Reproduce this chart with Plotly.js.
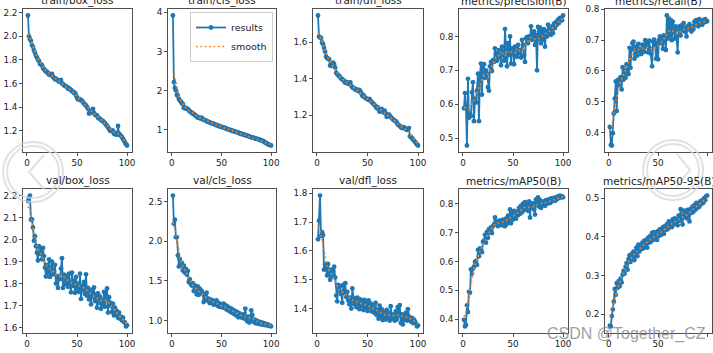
<!DOCTYPE html>
<html>
<head>
<meta charset="utf-8">
<script src="https://cdn.plot.ly/plotly-3.0.1.min.js"></script>
<style>
  html, body { margin: 0; padding: 0; background: #fff; }
  #chart { width: 713px; height: 353px; }
</style>
</head>
<body>
<div id="chart"></div>
<script>
// ---------------- DATA ----------------
const epochs = Array.from({length: 100}, (_, i) => i + 1);

const titles = ["train/box_loss", "train/cls_loss", "train/dfl_loss", "metrics/precision(B)", "metrics/recall(B)",
                "val/box_loss", "val/cls_loss", "val/dfl_loss", "metrics/mAP50(B)", "metrics/mAP50-95(B)"];

const trainBoxLoss = [2.175,2.00,1.975,1.96,1.925,1.91,1.88,1.86,1.835,1.82,
  1.80,1.79,1.765,1.76,1.755,1.73,1.72,1.71,1.70,1.70,
  1.685,1.675,1.68,1.67,1.68,1.655,1.65,1.635,1.64,1.63,
  1.625,1.615,1.625,1.63,1.60,1.595,1.585,1.58,1.575,1.57,
  1.555,1.56,1.55,1.545,1.535,1.53,1.52,1.52,1.50,1.48,
  1.465,1.47,1.465,1.455,1.455,1.44,1.43,1.42,1.415,1.40,
  1.385,1.345,1.35,1.365,1.36,1.385,1.35,1.335,1.33,1.33,
  1.31,1.305,1.30,1.29,1.285,1.28,1.27,1.265,1.25,1.24,
  1.23,1.215,1.20,1.205,1.195,1.20,1.175,1.17,1.18,1.165,
  1.24,1.175,1.165,1.155,1.145,1.13,1.115,1.10,1.085,1.075];

const trainClsLoss = [3.92,2.22,2.07,2.01,1.89,1.87,1.79,1.75,1.72,1.68,
  1.66,1.56,1.57,1.54,1.55,1.53,1.50,1.47,1.46,1.43,
  1.42,1.40,1.38,1.36,1.34,1.31,1.32,1.30,1.29,1.31,
  1.27,1.26,1.25,1.24,1.22,1.21,1.20,1.19,1.18,1.17,
  1.16,1.16,1.14,1.13,1.12,1.11,1.11,1.09,1.08,1.07,
  1.07,1.06,1.05,1.04,1.03,1.02,1.01,1.00,1.00,0.98,
  0.97,0.97,0.96,0.95,0.94,0.94,0.93,0.91,0.90,0.90,
  0.89,0.88,0.87,0.87,0.85,0.85,0.84,0.83,0.82,0.81,
  0.81,0.80,0.79,0.78,0.77,0.77,0.76,0.75,0.74,0.73,
  0.72,0.72,0.69,0.68,0.66,0.65,0.63,0.62,0.61,0.60];

const trainDflLoss = [1.745,1.630,1.625,1.622,1.598,1.588,1.568,1.548,1.522,1.512,
  1.510,1.505,1.472,1.470,1.478,1.488,1.478,1.460,1.432,1.425,
  1.418,1.415,1.408,1.400,1.398,1.392,1.385,1.378,1.383,1.375,
  1.372,1.378,1.380,1.360,1.352,1.350,1.345,1.340,1.343,1.335,
  1.332,1.338,1.330,1.318,1.305,1.310,1.300,1.295,1.290,1.288,
  1.285,1.290,1.280,1.272,1.268,1.262,1.255,1.250,1.240,1.245,
  1.232,1.220,1.228,1.235,1.222,1.215,1.225,1.210,1.192,1.195,
  1.205,1.198,1.190,1.185,1.178,1.175,1.170,1.168,1.160,1.150,
  1.145,1.142,1.135,1.132,1.130,1.135,1.128,1.125,1.120,1.122,
  1.130,1.085,1.082,1.075,1.068,1.062,1.055,1.048,1.040,1.035];

const precision = [0.588,0.633,0.590,0.478,0.675,0.560,0.572,0.565,0.635,0.665,
  0.550,0.618,0.605,0.640,0.690,0.550,0.688,0.720,0.628,0.715,
  0.718,0.678,0.700,0.690,0.650,0.640,0.712,0.725,0.698,0.730,
  0.725,0.765,0.750,0.728,0.738,0.760,0.742,0.715,0.770,0.752,
  0.728,0.822,0.735,0.712,0.780,0.745,0.800,0.720,0.765,0.760,
  0.718,0.770,0.748,0.740,0.775,0.752,0.760,0.738,0.790,0.775,
  0.745,0.725,0.795,0.798,0.780,0.800,0.795,0.830,0.790,0.800,
  0.815,0.775,0.805,0.700,0.828,0.792,0.826,0.780,0.818,0.790,
  0.822,0.770,0.815,0.800,0.835,0.810,0.822,0.805,0.830,0.810,
  0.838,0.825,0.842,0.835,0.850,0.840,0.855,0.852,0.848,0.862];

const recall = [0.418,0.360,0.358,0.398,0.462,0.510,0.566,0.470,0.570,0.552,
  0.575,0.580,0.540,0.612,0.572,0.600,0.578,0.622,0.598,0.590,
  0.675,0.610,0.670,0.690,0.695,0.640,0.662,0.680,0.650,0.688,
  0.665,0.670,0.655,0.685,0.672,0.662,0.700,0.680,0.690,0.660,
  0.698,0.672,0.655,0.615,0.695,0.702,0.685,0.640,0.690,0.638,
  0.700,0.712,0.690,0.705,0.672,0.715,0.700,0.668,0.780,0.705,
  0.770,0.715,0.765,0.700,0.760,0.725,0.705,0.745,0.712,0.660,
  0.735,0.745,0.715,0.748,0.732,0.755,0.728,0.740,0.712,0.745,
  0.735,0.752,0.740,0.728,0.745,0.735,0.760,0.748,0.765,0.752,
  0.745,0.768,0.755,0.760,0.750,0.765,0.758,0.768,0.760,0.762];

const valBoxLoss = [2.175,2.190,2.200,2.090,2.092,2.055,1.995,2.015,1.970,1.940,
  1.905,1.970,1.935,1.960,1.910,1.962,1.925,1.872,1.832,1.885,
  1.850,1.910,1.830,1.870,1.900,1.842,1.855,1.885,1.800,1.835,
  1.780,1.832,1.820,1.868,1.915,1.780,1.840,1.798,1.835,1.820,
  1.785,1.845,1.800,1.760,1.850,1.790,1.812,1.758,1.830,1.775,
  1.800,1.762,1.845,1.730,1.790,1.770,1.808,1.752,1.842,1.745,
  1.780,1.728,1.760,1.705,1.772,1.738,1.782,1.720,1.750,1.690,
  1.755,1.712,1.740,1.685,1.725,1.700,1.762,1.695,1.748,1.778,
  1.668,1.738,1.700,1.712,1.670,1.708,1.655,1.690,1.660,1.675,
  1.645,1.668,1.640,1.650,1.632,1.645,1.625,1.622,1.605,1.610];

const valClsLoss = [2.575,2.220,2.270,2.050,2.052,1.820,1.680,1.775,1.700,1.725,
  1.630,1.690,1.605,1.650,1.580,1.625,1.485,1.520,1.460,1.440,
  1.470,1.372,1.442,1.405,1.330,1.430,1.322,1.402,1.345,1.372,
  1.340,1.232,1.312,1.280,1.350,1.250,1.275,1.220,1.262,1.228,
  1.252,1.200,1.245,1.210,1.252,1.185,1.222,1.172,1.205,1.180,
  1.165,1.212,1.158,1.195,1.140,1.178,1.125,1.160,1.110,1.150,
  1.095,1.132,1.080,1.118,1.062,1.105,1.040,1.090,1.050,1.070,
  1.032,1.078,1.025,1.150,1.020,0.990,1.048,0.975,1.015,1.128,
  1.070,0.985,1.010,0.968,1.002,0.962,0.990,0.958,0.978,0.950,
  0.972,0.945,0.965,0.942,0.958,0.938,0.948,0.932,0.935,0.925];

const valDflLoss = [1.640,1.705,1.792,1.652,1.665,1.655,1.535,1.552,1.540,1.515,
  1.555,1.525,1.500,1.535,1.512,1.530,1.545,1.508,1.445,1.425,
  1.482,1.462,1.478,1.450,1.420,1.482,1.455,1.488,1.440,1.458,
  1.428,1.415,1.438,1.400,1.470,1.428,1.415,1.435,1.405,1.438,
  1.418,1.398,1.432,1.410,1.425,1.395,1.430,1.405,1.422,1.392,
  1.428,1.405,1.418,1.390,1.412,1.398,1.385,1.420,1.378,1.395,
  1.365,1.410,1.372,1.398,1.360,1.388,1.375,1.362,1.395,1.368,
  1.385,1.358,1.408,1.365,1.380,1.372,1.358,1.390,1.362,1.405,
  1.375,1.412,1.350,1.380,1.345,1.378,1.362,1.385,1.358,1.398,
  1.372,1.362,1.355,1.368,1.350,1.362,1.355,1.348,1.338,1.342];

const mAP50 = [0.398,0.375,0.380,0.448,0.425,0.495,0.492,0.572,0.558,0.575,
  0.582,0.598,0.602,0.588,0.640,0.618,0.645,0.642,0.632,0.668,
  0.672,0.692,0.665,0.702,0.682,0.712,0.700,0.718,0.698,0.722,
  0.728,0.752,0.732,0.738,0.722,0.740,0.728,0.742,0.725,0.745,
  0.735,0.722,0.748,0.730,0.758,0.740,0.780,0.732,0.768,0.745,
  0.775,0.755,0.748,0.772,0.760,0.785,0.765,0.792,0.770,0.800,
  0.778,0.805,0.782,0.798,0.775,0.808,0.752,0.795,0.788,0.802,
  0.780,0.762,0.815,0.795,0.822,0.790,0.812,0.785,0.805,0.798,
  0.808,0.792,0.812,0.800,0.805,0.815,0.802,0.818,0.808,0.812,
  0.820,0.810,0.822,0.815,0.825,0.820,0.828,0.822,0.825,0.822];

const mAP5095 = [0.170,0.168,0.195,0.212,0.232,0.265,0.250,0.280,0.268,0.285,
  0.272,0.292,0.282,0.302,0.312,0.305,0.322,0.332,0.315,0.342,
  0.352,0.335,0.355,0.345,0.362,0.340,0.358,0.372,0.350,0.380,
  0.362,0.375,0.368,0.385,0.370,0.390,0.378,0.392,0.372,0.398,
  0.385,0.402,0.388,0.410,0.392,0.412,0.398,0.405,0.392,0.415,
  0.402,0.420,0.405,0.412,0.425,0.408,0.428,0.418,0.432,0.420,
  0.440,0.428,0.435,0.425,0.445,0.432,0.448,0.438,0.442,0.430,
  0.455,0.442,0.472,0.448,0.432,0.468,0.452,0.462,0.448,0.470,
  0.458,0.440,0.472,0.462,0.478,0.465,0.482,0.470,0.488,0.475,
  0.485,0.478,0.492,0.485,0.495,0.488,0.500,0.495,0.505,0.507];

const seriesList = [trainBoxLoss, trainClsLoss, trainDflLoss, precision, recall,
                    valBoxLoss, valClsLoss, valDflLoss, mAP50, mAP5095];

const xTicks = [0, 50, 100];
const yTicks = [
  [1.2, 1.4, 1.6, 1.8, 2.0, 2.2],
  [1, 2, 3, 4],
  [1.2, 1.4, 1.6],
  [0.5, 0.6, 0.7, 0.8],
  [0.4, 0.5, 0.6, 0.7, 0.8],
  [1.6, 1.7, 1.8, 1.9, 2.0, 2.1, 2.2],
  [1.0, 1.5, 2.0, 2.5],
  [1.4, 1.5, 1.6, 1.7, 1.8],
  [0.4, 0.5, 0.6, 0.7, 0.8],
  [0.2, 0.3, 0.4, 0.5]
];
const yTickDecimals = [1, 0, 1, 1, 1, 1, 1, 1, 1, 1];

// ---------------- HELPERS ----------------
// Gaussian smoothing (sigma = 3, reflect mode) — the "smooth" curve of the results plot
function gaussSmooth(y, sigma) {
  const n = y.length, r = Math.floor(4 * sigma + 0.5);
  const w = [];
  let s = 0;
  for (let k = -r; k <= r; k++) { const v = Math.exp(-0.5 * k * k / (sigma * sigma)); w.push(v); s += v; }
  for (let k = 0; k < w.length; k++) w[k] /= s;
  const refl = i => { while (i < 0 || i >= n) { if (i < 0) i = -i - 1; if (i >= n) i = 2 * n - i - 1; } return i; };
  return y.map((_, i) => { let acc = 0; for (let k = -r; k <= r; k++) acc += w[k + r] * y[refl(i + k)]; return acc; });
}

const W = 713, H = 353;
const colL = [23, 168, 313, 459, 605];
const colR = [132, 276, 423, 568, 712];
const rowT = [9, 189];
const rowB = [152, 333];

const FONT = "DejaVu Sans, Verdana, sans-serif";
const traces = [];
const layout = {
  width: W, height: H,
  margin: {l: 0, r: 0, t: 0, b: 0},
  paper_bgcolor: "#ffffff",
  plot_bgcolor: "#ffffff",
  font: {family: FONT, size: 9, color: "#222"},
  showlegend: true,
  legend: {
    x: 273 / W, y: 1 - 12 / H, xanchor: "right", yanchor: "top",
    bgcolor: "rgba(255,255,255,0.85)", bordercolor: "#cccccc", borderwidth: 1,
    font: {family: FONT, size: 9.5, color: "#222"},
    itemwidth: 30, tracegroupgap: 0
  },
  annotations: [],
  shapes: []
};

seriesList.forEach((y, idx) => {
  const r = Math.floor(idx / 5), c = idx % 5;
  const ax = idx === 0 ? "" : String(idx + 1);
  const sm = gaussSmooth(y, 3);
  const lo = Math.min(...y, ...sm), hi = Math.max(...y, ...sm);
  const pad = (hi - lo) * 0.05;
  const xr = [1 - 99 * 0.05, 100 + 99 * 0.05];

  traces.push({
    x: epochs, y: y, xaxis: "x" + ax, yaxis: "y" + ax,
    type: "scatter", mode: "lines+markers", name: "results",
    line: {color: "#1f77b4", width: 1.8},
    marker: {color: "#1f77b4", size: 4.8},
    showlegend: idx === 1, legendgroup: "results"
  });
  traces.push({
    x: epochs, y: sm, xaxis: "x" + ax, yaxis: "y" + ax,
    type: "scatter", mode: "lines", name: "smooth",
    line: {color: "#ff7f0e", width: 1.7, dash: "1.7px,2.7px"},
    showlegend: idx === 1, legendgroup: "smooth"
  });

  const common = {
    showgrid: false, zeroline: false, showline: true, mirror: true,
    linecolor: "#222", linewidth: 0.8,
    ticks: "outside", ticklen: 3, tickwidth: 0.8, tickcolor: "#222",
    tickfont: {family: FONT, size: 8.8, color: "#222"},
    fixedrange: true
  };
  layout["xaxis" + ax] = Object.assign({}, common, {
    domain: [colL[c] / W, colR[c] / W],
    anchor: "y" + ax, range: xr,
    tickmode: "array", tickvals: xTicks, ticktext: xTicks.map(String)
  });
  layout["yaxis" + ax] = Object.assign({}, common, {
    domain: [1 - rowB[r] / H, 1 - rowT[r] / H],
    anchor: "x" + ax, range: [lo - pad, hi + pad],
    tickmode: "array", tickvals: yTicks[idx],
    ticktext: yTicks[idx].map(v => v.toFixed(yTickDecimals[idx]))
  });
  layout.annotations.push({
    text: titles[idx], xref: "paper", yref: "paper",
    x: (colL[c] + colR[c]) / 2 / W, y: 1 - rowT[r] / H,
    xanchor: "center", yanchor: "bottom", yshift: 0, showarrow: false,
    font: {family: FONT, size: 10.5, color: "#222"}
  });
});

// watermark
const px = v => v / W, py = v => 1 - v / H;
const wmLine = {color: "rgba(215,215,215,0.75)", width: 2};
[[33, 172], [673, 170]].forEach(([cx, cy]) => {
  [30, 26].forEach(rad => {
    layout.shapes.push({type: "circle", xref: "paper", yref: "paper",
      x0: px(cx - rad), x1: px(cx + rad), y0: py(cy + rad), y1: py(cy - rad),
      line: wmLine, layer: "above"});
  });
});
layout.shapes.push({type: "path", xref: "paper", yref: "paper", layer: "above", line: wmLine,
  path: `M ${px(44)} ${py(155)} L ${px(29)} ${py(172)} L ${px(44)} ${py(189)}`});
layout.shapes.push({type: "path", xref: "paper", yref: "paper", layer: "above", line: wmLine,
  path: `M ${px(677)} ${py(154)} L ${px(690)} ${py(170)} L ${px(677)} ${py(186)}`});
layout.annotations.push({
  text: "CSDN @Together_CZ", xref: "paper", yref: "paper",
  x: px(708), y: py(334), xanchor: "right", yanchor: "middle", showarrow: false,
  font: {family: "Liberation Sans, Arial, sans-serif", size: 16, color: "rgba(140,140,140,0.85)"}
});

Plotly.newPlot("chart", traces, layout, {displayModeBar: false, staticPlot: true});
</script>
</body>
</html>
